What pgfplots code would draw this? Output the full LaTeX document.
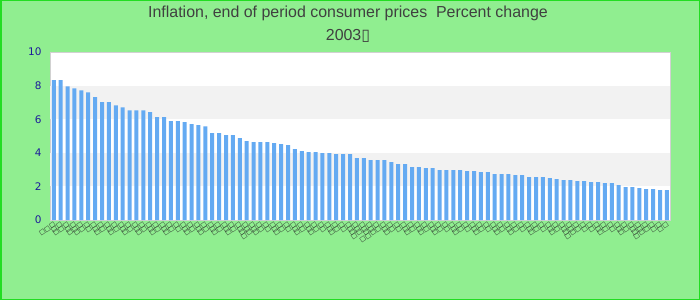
\documentclass[border=0pt]{standalone}
\usepackage{pgfplots}
\pgfplotsset{compat=1.18}
\usepackage{pgfplotstable}
\usepackage{fontspec}
\setmainfont{Liberation Sans}
\newfontfamily\dejavu{DejaVu Sans}
\definecolor{bgGreen}{HTML}{90EE90}
\definecolor{edgeGreen}{HTML}{22DD22}
\definecolor{barBlue}{HTML}{64AAF2}
\definecolor{bandGray}{HTML}{F2F2F2}
\definecolor{tickBlue}{HTML}{1C1C9A}
\definecolor{titleGray}{HTML}{404040}
\newcommand\Bii{□□}
\newcommand\Biii{□□□}
\newcommand\Biv{□□□□}
\newcommand\Bv{□□□□□}
\pgfplotstableread{
x y
0 8.32
1 8.32
2 7.96
3 7.84
4 7.72
5 7.60
6 7.31
7 7.01
8 7.01
9 6.83
10 6.71
11 6.53
12 6.53
13 6.53
14 6.42
15 6.12
16 6.12
17 5.88
18 5.88
19 5.82
20 5.70
21 5.64
22 5.58
23 5.17
24 5.17
25 5.05
26 5.05
27 4.87
28 4.69
29 4.63
30 4.63
31 4.63
32 4.57
33 4.51
34 4.46
35 4.22
36 4.10
37 4.04
38 4.04
39 3.98
40 3.98
41 3.92
42 3.92
43 3.92
44 3.68
45 3.68
46 3.56
47 3.56
48 3.56
49 3.45
50 3.33
51 3.33
52 3.15
53 3.15
54 3.09
55 3.09
56 2.97
57 2.97
58 2.97
59 2.97
60 2.91
61 2.91
62 2.85
63 2.85
64 2.73
65 2.73
66 2.73
67 2.67
68 2.67
69 2.55
70 2.55
71 2.55
72 2.50
73 2.44
74 2.38
75 2.38
76 2.32
77 2.32
78 2.26
79 2.26
80 2.20
81 2.20
82 2.08
83 1.96
84 1.96
85 1.90
86 1.84
87 1.84
88 1.78
89 1.78
}\datatable
\begin{document}
\begin{tikzpicture}[x=1bp,y=1bp]
\useasboundingbox (0,0) rectangle (700,300);
\fill[bgGreen] (0,0) rectangle (700,300);
\draw[edgeGreen, line width=1.5bp] (0.75,0.75) rectangle (699.25,299.25);
\node[font=\fontsize{16}{18}\selectfont, text=titleGray] at (348,287) {Inflation, end of period consumer prices\ \ Percent change};
\node[font=\fontsize{16}{18}\selectfont, text=titleGray] at (348,264) {2003{\dejavu ▯}};
\begin{axis}[
  at={(50bp,80bp)}, anchor=south west,
  scale only axis, width=620bp, height=168bp,
  xmin=-0.55, xmax=89.45, ymin=0, ymax=10,
  ybar, bar width=4bp,
  axis background/.style={fill=white},
  axis line style={draw=black!18},
  major tick length=0pt,
  ytick={0,2,...,10},
  /pgf/number format/assume math mode=true,
  yticklabel style={font=\dejavu\fontsize{10.5}{12}\selectfont, text=tickBlue, xshift=-5bp},
  xtick={0,...,89},
  xticklabels={\Biii,\Bii,\Biii,\Bii,\Biii,\Biii,\Bii,\Bii,\Biii,\Bii,
    \Biii,\Bii,\Biii,\Bii,\Biii,\Bii,\Biii,\Bii,\Biii,\Bii,
    \Bii,\Biii,\Bii,\Biii,\Bii,\Biii,\Bii,\Biii,\Bii,\Biii,
    \Biv,\Biii,\Bii,\Bii,\Biii,\Bii,\Bii,\Biii,\Bii,\Biii,
    \Bii,\Bii,\Biii,\Bii,\Bii,\Biii,\Biv,\Biii,\Bv,\Bii,
    \Biii,\Bii,\Bii,\Biii,\Bii,\Biii,\Bii,\Biii,\Bii,\Bii,
    \Biii,\Bii,\Bii,\Biii,\Bii,\Bii,\Biii,\Bii,\Biii,\Bii,
    \Bii,\Biii,\Bii,\Bii,\Biii,\Bii,\Biii,\Biv,\Bii,\Bii,
    \Bii,\Biii,\Bii,\Bii,\Biii,\Bii,\Biii,\Biv,\Bii,\Bii},
  xticklabel style={rotate=35, anchor=north east, font=\dejavu\fontsize{6.5}{7}\selectfont, text=black!85, inner sep=1pt},
]
\fill[bandGray] (rel axis cs:0,0.2) rectangle (rel axis cs:1,0.4);
\fill[bandGray] (rel axis cs:0,0.6) rectangle (rel axis cs:1,0.8);
\addplot[fill=barBlue, draw=none] table[x=x, y=y] {\datatable};
\end{axis}
\end{tikzpicture}
\end{document}
